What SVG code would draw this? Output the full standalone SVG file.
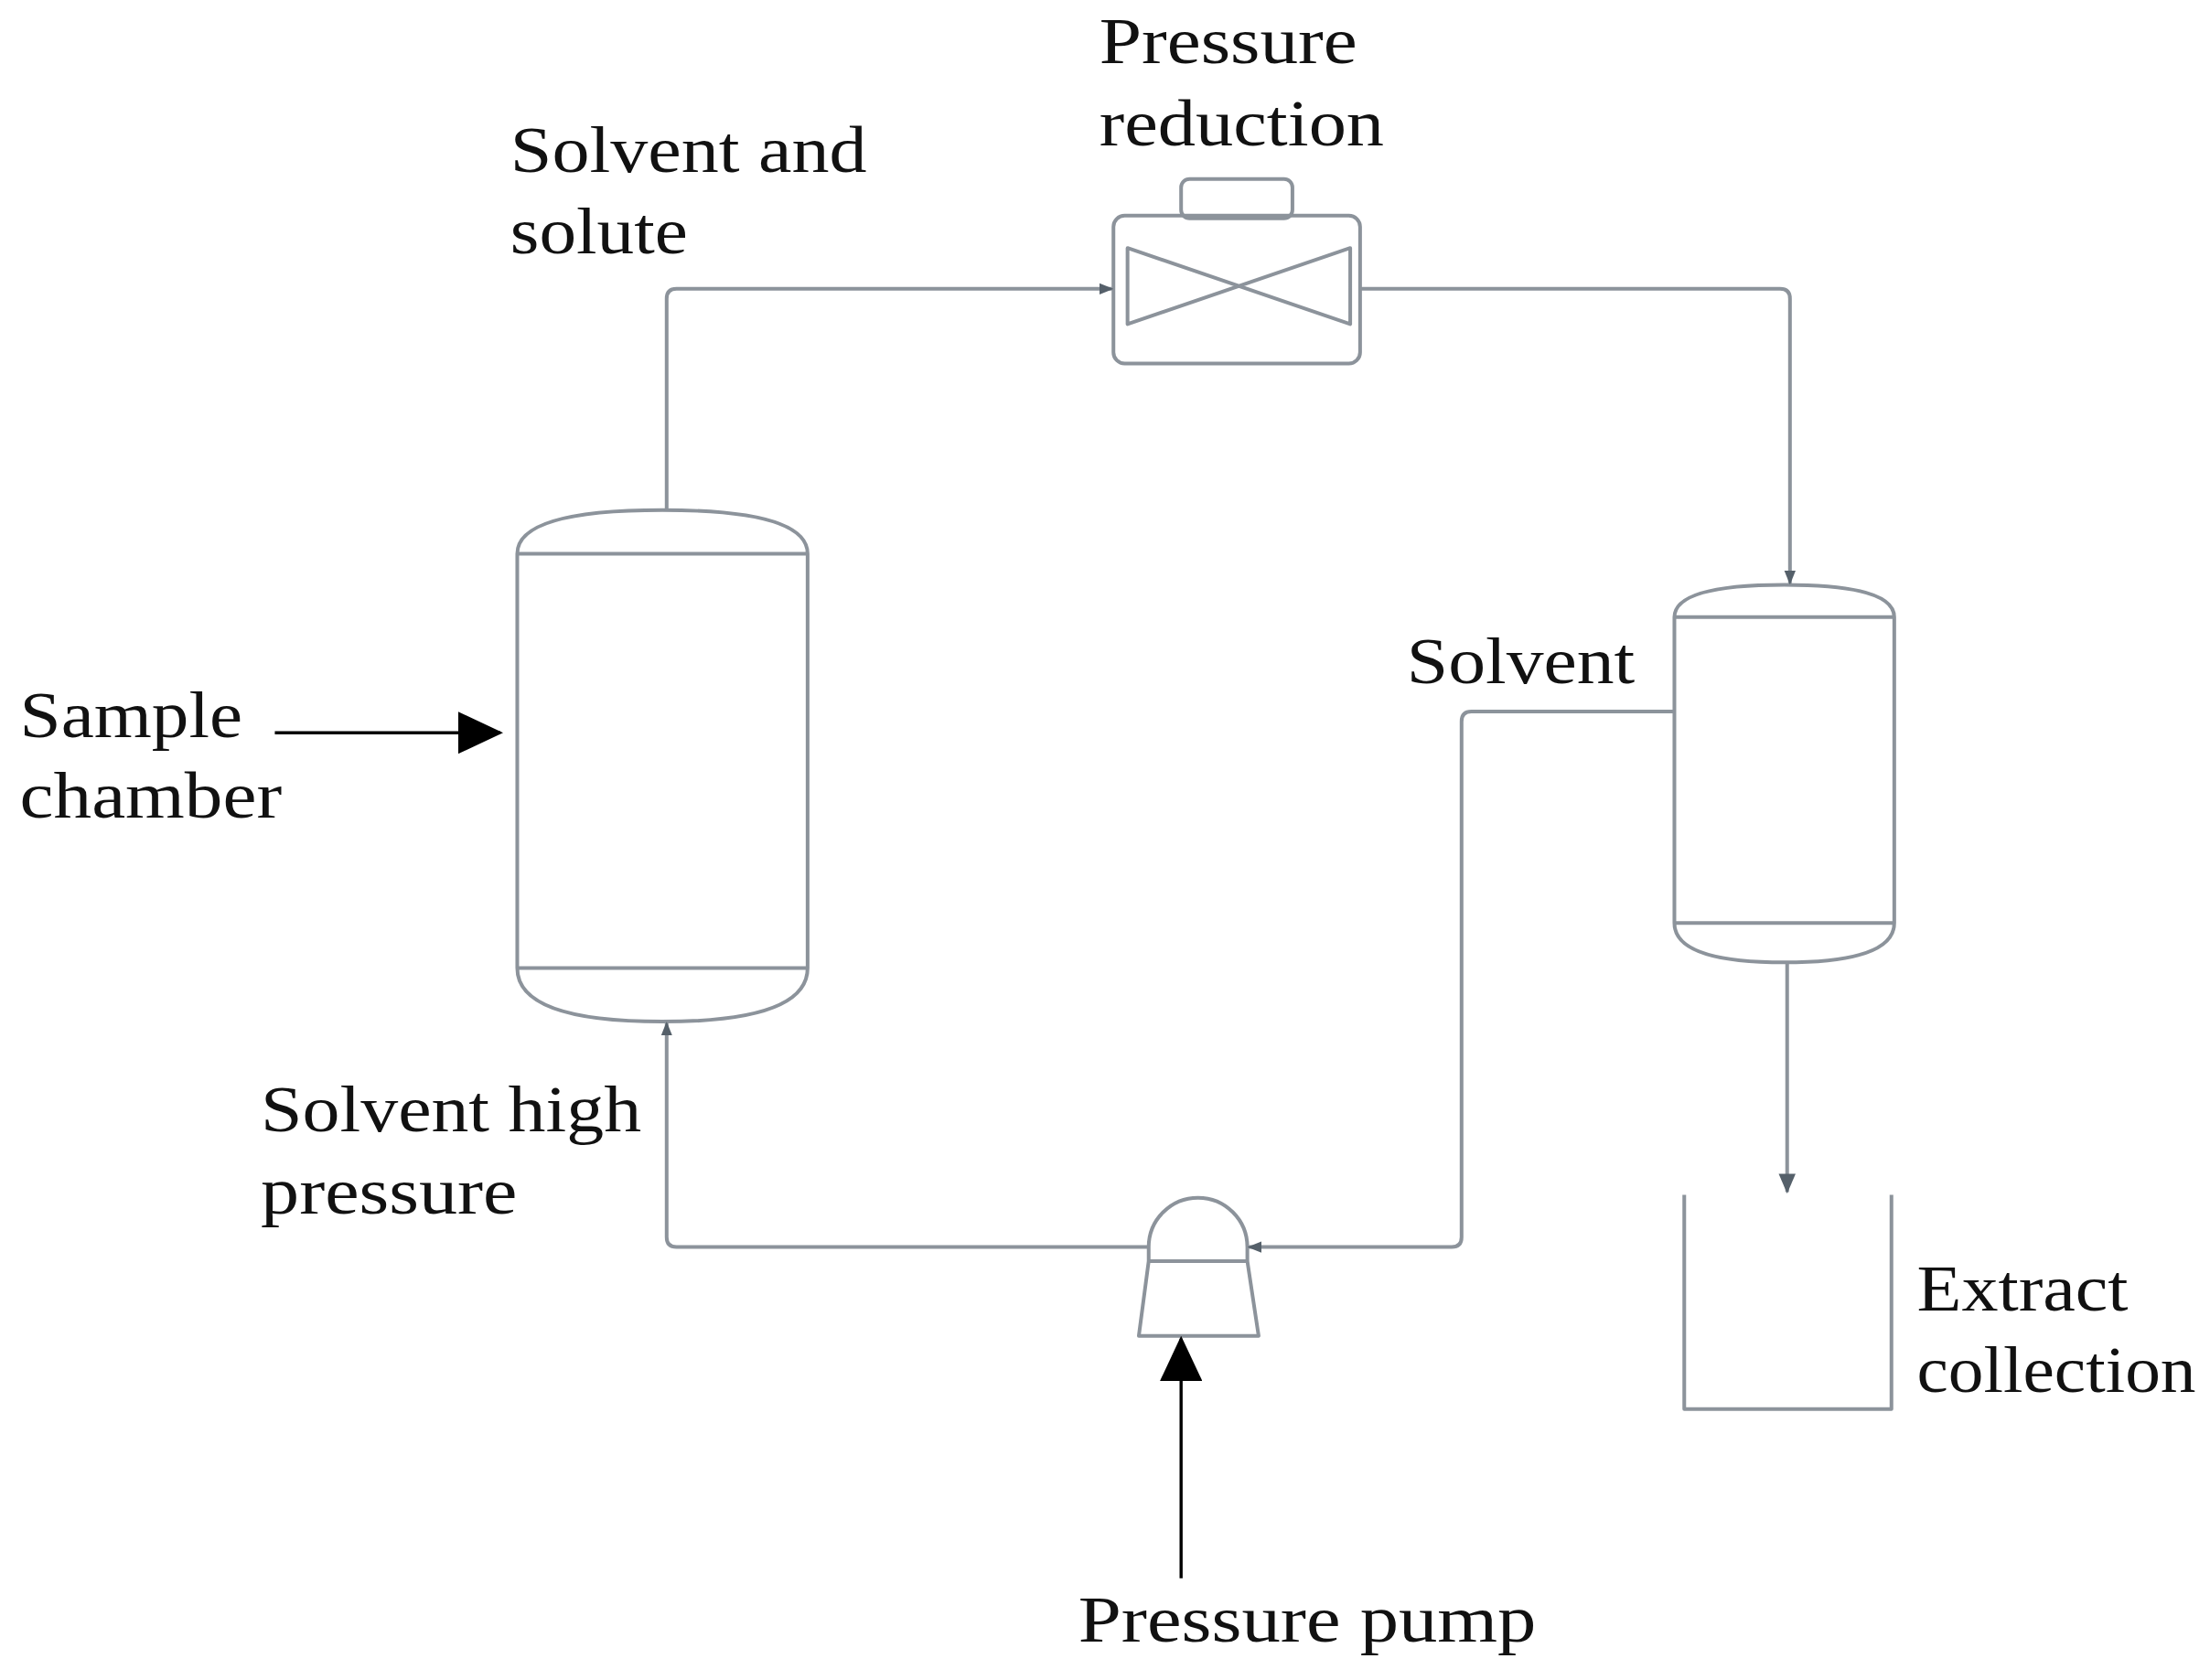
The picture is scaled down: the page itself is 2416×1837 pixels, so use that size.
<svg xmlns="http://www.w3.org/2000/svg" width="2416" height="1837" viewBox="0 0 2416 1837">
<style>
.p{fill:none;stroke:#8c939b;stroke-width:2.6;stroke-linejoin:round}
.t{font-family:"Liberation Serif",serif;font-size:46px;fill:#111}
.k{stroke:#000;stroke-width:2.2;fill:none}
</style>
<defs>
<marker id="g" markerWidth="10" markerHeight="10" refX="9" refY="5" orient="auto" markerUnits="userSpaceOnUse"><path d="M0,1 L10,5 L0,9Z" fill="#55606a"/></marker>
<marker id="g2" markerWidth="14" markerHeight="14" refX="13" refY="7" orient="auto" markerUnits="userSpaceOnUse"><path d="M0,1 L14,7 L0,13Z" fill="#55606a"/></marker>
<marker id="b" markerWidth="32" markerHeight="30" refX="30" refY="15" orient="auto" markerUnits="userSpaceOnUse"><path d="M0,0 L32,15 L0,30Z" fill="#000"/></marker>
</defs>
<rect width="2416" height="1837" fill="#fff"/>
<g transform="scale(1.5408)">
<g id="sample-chamber"><path class="p" d="M367,393 Q367,362 470,362 Q573,362 573,393 L573,687 Q573,725 470,725 Q367,725 367,687 Z M367,393 H573 M367,687 H573"/></g>
<g id="valve"><rect class="p" x="790" y="153" width="175" height="105" rx="8"/><rect class="p" x="838" y="127" width="79" height="28" rx="6"/><path class="p" d="M800,176 L958,230 L958,176 L800,230 Z"/></g>
<g id="separator"><path class="p" d="M1188,438 Q1188,415 1266,415 Q1344,415 1344,438 L1344,655 Q1344,683 1266,683 Q1188,683 1188,655 Z M1188,438 H1344 M1188,655 H1344"/></g>
<g id="pump"><path class="p" d="M815,885 A35,35 0 0 1 885,885 L885,895 L815,895 Z M815,895 L885,895 L893,948 L808,948 Z"/></g>
<g id="collection"><path class="p" d="M1195,848 V1000 H1342 V848"/></g>
<g id="connectors">
<path class="p" d="M473,362 V212 Q473,205 480,205 H789" marker-end="url(#g)"/>
<path class="p" d="M965,205 H1263 Q1270,205 1270,212 V414" marker-end="url(#g)"/>
<path class="p" d="M1188,505 H1044 Q1037,505 1037,512 V878 Q1037,885 1030,885 H886" marker-end="url(#g)"/>
<path class="p" d="M815,885 H480 Q473,885 473,878 V726" marker-end="url(#g)"/>
<path class="p" d="M1268,683 V846" marker-end="url(#g2)"/>
<path class="k" d="M195,520 H355" marker-end="url(#b)"/>
<path class="k" d="M838,1120 V950" marker-end="url(#b)"/>
</g>
<g id="labels">
<text class="t" x="780" y="45" textLength="183" lengthAdjust="spacingAndGlyphs">Pressure</text><text class="t" x="780" y="103" textLength="202" lengthAdjust="spacingAndGlyphs">reduction</text>
<text class="t" x="362" y="122" textLength="253" lengthAdjust="spacingAndGlyphs">Solvent and</text><text class="t" x="362" y="180" textLength="126" lengthAdjust="spacingAndGlyphs">solute</text>
<text class="t" x="14" y="523" textLength="158" lengthAdjust="spacingAndGlyphs">Sample</text><text class="t" x="14" y="580" textLength="186" lengthAdjust="spacingAndGlyphs">chamber</text>
<text class="t" x="998" y="485" textLength="162" lengthAdjust="spacingAndGlyphs">Solvent</text>
<text class="t" x="185" y="803" textLength="270" lengthAdjust="spacingAndGlyphs">Solvent high</text><text class="t" x="185" y="861" textLength="182" lengthAdjust="spacingAndGlyphs">pressure</text>
<text class="t" x="1360" y="930" textLength="150" lengthAdjust="spacingAndGlyphs">Extract</text><text class="t" x="1360" y="988" textLength="198" lengthAdjust="spacingAndGlyphs">collection</text>
<text class="t" x="765" y="1165" textLength="325" lengthAdjust="spacingAndGlyphs">Pressure pump</text>
</g>
</g>
</svg>
